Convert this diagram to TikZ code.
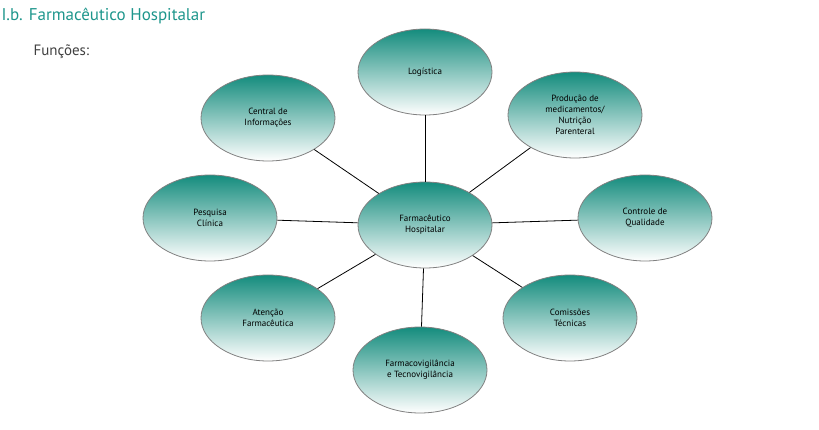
\documentclass[tikz,border=0pt]{standalone}
\usepackage{fontspec}
\setmainfont{PT Sans}
\usetikzlibrary{shapes.geometric}
\definecolor{tealtop}{RGB}{20,140,125}
\definecolor{titlecol}{RGB}{30,150,140}
\begin{document}
\begin{tikzpicture}[x=1pt,y=-1pt]
 % styles
  \tikzstyle{funcao}=[ellipse,draw=gray,thick,minimum width=134pt,minimum height=86pt,
    top color=tealtop,bottom color=white,align=center,inner sep=0pt,font=\fontsize{9}{11}\selectfont]
  \tikzstyle{liga}=[thick]
  \useasboundingbox (0,0) rectangle (819,430);
 % titulo
  \node[anchor=west,text=titlecol,font=\fontsize{17}{20}\selectfont] (T) at (-2,16) {I.b. Farmac\^eutico Hospitalar};
  \node[anchor=west,text=black!75,font=\fontsize{15}{18}\selectfont] (F) at (30,52) {Fun\c{c}\~oes:};
 % les noeuds
  \node[funcao] (L) at (425,72) {Log\'istica};
  \node[funcao] (P) at (575,115) {Produ\c{c}\~ao de\\medicamentos/\\Nutri\c{c}\~ao\\Parenteral};
  \node[funcao] (Q) at (645,218) {Controle de\\Qualidade};
  \node[funcao] (M) at (570,318) {Comiss\~oes\\T\'ecnicas};
  \node[funcao] (V) at (420,370) {Farmacovigil\^ancia\\e Tecnovigil\^ancia};
  \node[funcao] (A) at (268,318) {Aten\c{c}\~ao\\Farmac\^eutica};
  \node[funcao] (S) at (210,218) {Pesquisa\\Cl\'inica};
  \node[funcao] (I) at (268,118) {Central de\\Informa\c{c}\~oes};
  \node[funcao] (C) at (425,225) {Farmac\^eutico\\Hospitalar};
 % les liaisons
  \foreach \n in {L,P,Q,M,V,A,S,I}
    \draw[liga] (C) -- (\n);
\end{tikzpicture}
\end{document}
